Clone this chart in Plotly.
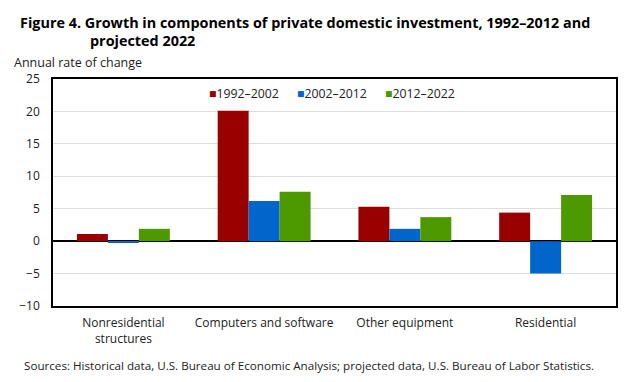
import plotly.graph_objects as go

categories = ["Nonresidential<br>structures", "Computers and software", "Other equipment", "Residential"]
series_names = ["1992\u20132002", "2002\u20132012", "2012\u20132022"]
v_1992_2002 = [1.1, 20.1, 5.3, 4.4]
v_2002_2012 = [-0.25, 6.2, 1.9, -5.0]
v_2012_2022 = [1.9, 7.6, 3.7, 7.1]
colors = ["#990000", "#0066cc", "#4d9900"]
y_ticks = [-10, -5, 0, 5, 10, 15, 20, 25]

fig = go.Figure()
for name, vals, c in zip(series_names, [v_1992_2002, v_2002_2012, v_2012_2022], colors):
    fig.add_trace(go.Bar(x=categories, y=vals, name=name, marker_color=c, marker_line_width=0,
                         showlegend=False))

font = "Open Sans, Lato, sans-serif"
fig.update_layout(
    width=626, height=382,
    margin=dict(l=45, r=18, t=71, b=84),
    paper_bgcolor="white", plot_bgcolor="white",
    barmode="group", bargap=0.34, bargroupgap=0,
    font=dict(family=font, size=12, color="#222"),
    xaxis=dict(showline=True, mirror=True, linecolor="black", linewidth=1.5, automargin=False,
               ticks="", tickfont=dict(size=12), showgrid=False, ticklabelstandoff=5),
    yaxis=dict(range=[-10, 25], tickvals=y_ticks, showline=True, mirror=True, automargin=False,
               linecolor="black", linewidth=1.5, showgrid=True, gridcolor="#dddddd",
               zeroline=True, zerolinecolor="black", zerolinewidth=1.5,
               ticks="", tickfont=dict(size=12), ticklabelstandoff=9),
)

# legend built from series names and colors
legend_x = [0.2727, 0.4297, 0.5867]
for name, c, lx in zip(series_names, colors, legend_x):
    fig.add_annotation(text=f"<span style='color:{c}'>\u25A0</span>{name}",
                       xref="paper", yref="paper", x=lx, y=0.935, xanchor="left", yanchor="middle",
                       showarrow=False, font=dict(size=12.3, family=font, color="#222"))

fig.add_annotation(text="<b>Figure 4. Growth in components of private domestic investment, 1992\u20132012 and</b>",
                   xref="paper", yref="paper", x=-0.0622, y=1.0, xanchor="left", yanchor="bottom",
                   yshift=45, showarrow=False, font=dict(size=14.4, family=font, color="black"))
fig.add_annotation(text="<b>projected 2022</b>",
                   xref="paper", yref="paper", x=0.0622, y=1.0, xanchor="left", yanchor="bottom",
                   yshift=27, showarrow=False, font=dict(size=14.4, family=font, color="black"))
fig.add_annotation(text="Annual rate of change",
                   xref="paper", yref="paper", x=-0.0728, y=1.0, xanchor="left", yanchor="bottom",
                   yshift=6, showarrow=False, font=dict(size=12.5, family=font, color="#222"))
fig.add_annotation(text="Sources: Historical data, U.S. Bureau of Economic Analysis; projected data, U.S. Bureau of Labor Statistics.",
                   xref="paper", yref="paper", x=-0.055, y=0, xanchor="left", yanchor="top",
                   yshift=-50, showarrow=False, font=dict(size=11.65, family=font, color="#222"))

fig.write_html("out.html")
